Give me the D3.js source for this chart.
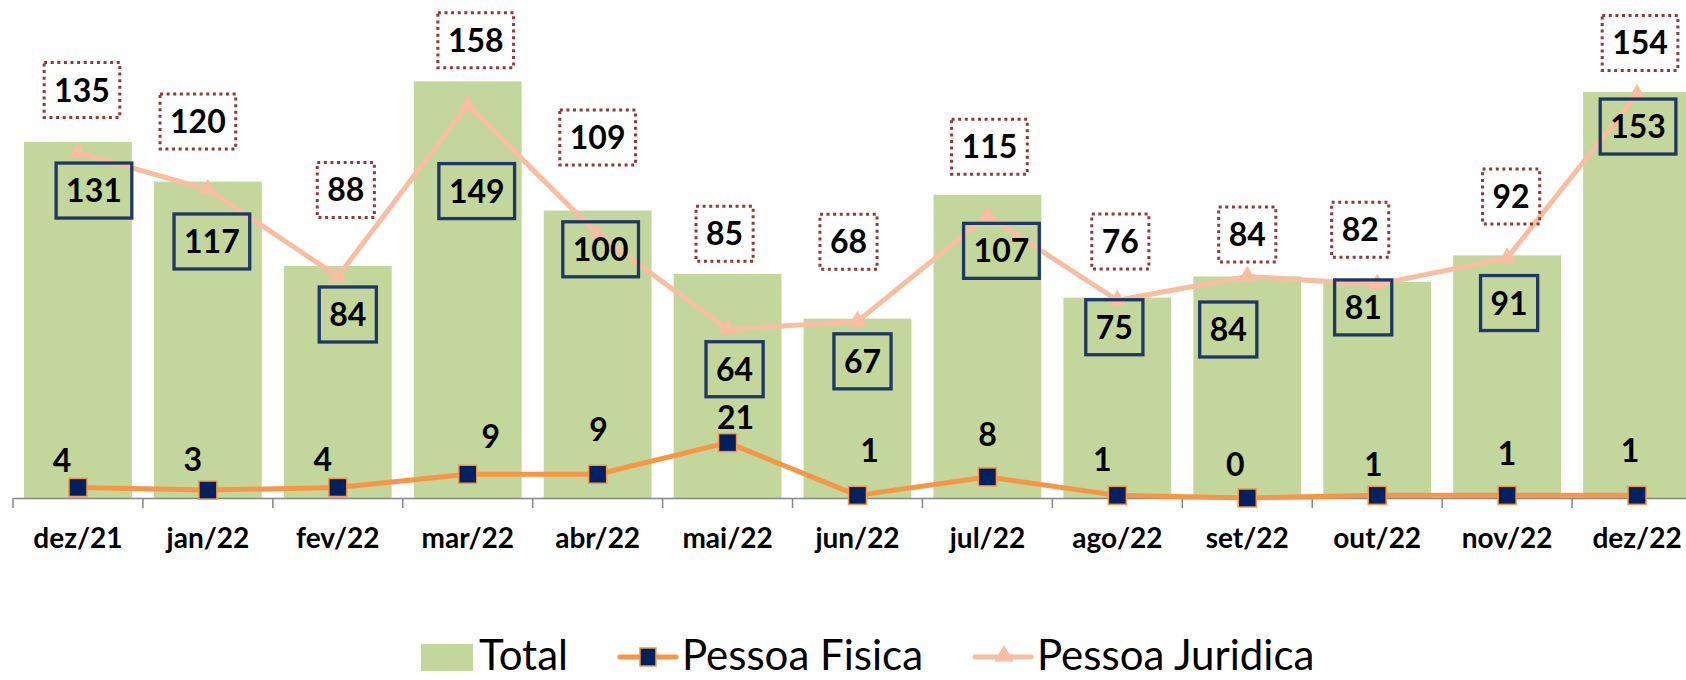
<!DOCTYPE html>
<html>
<head>
<meta charset="utf-8">
<script src="https://cdn.jsdelivr.net/npm/d3@7"></script>
<style>
  body { margin: 0; background: #fff; }
  svg { display: block; font-family: Lato, "Open Sans", sans-serif; }
  .tick text { font-family: Lato, sans-serif; font-weight: 700; font-size: 28px; fill: #000; }
  .lbl { font-weight: 700; font-size: 32px; fill: #000; }
  .legend text { font-size: 42px; fill: #000; }
</style>
</head>
<body>
<svg id="chart" width="1686" height="680"></svg>
<script>
const months = ["dez/21", "jan/22", "fev/22", "mar/22", "abr/22", "mai/22", "jun/22",
                "jul/22", "ago/22", "set/22", "out/22", "nov/22", "dez/22"];
const total = [135, 120, 88, 158, 109, 85, 68, 115, 76, 84, 82, 92, 154];
const pessoaFisica = [4, 3, 4, 9, 9, 21, 1, 8, 1, 0, 1, 1, 1];
const pessoaJuridica = [131, 117, 84, 149, 100, 64, 67, 107, 75, 84, 81, 91, 153];
const seriesNames = ["Total", "Pessoa Fisica", "Pessoa Juridica"];

// labels were dragged by hand in the sheet, so keep the pixel nudges here
const totalNudge = [[4,-52],[-10,-60],[8,-76],[8,-41],[0,-73],[-3,-40],[-9,-77],[2,-48],[3,-56],[0,-42],[-17,-52],[4,-59],[3,-49]];
const pjNudge = [[16,38],[4,52],[10,38],[9,86],[3,15],[7,40],[5,40],[14,35],[-3,27],[-19,53],[-14,23],[2,45],[1,32]];
const pfNudge = [[-16,-27],[-15,-31],[-15,-28],[23,-38],[1,-45],[8,-25],[12,-45],[0,-42],[-15,-36],[-12,-34],[-4,-31],[0,-42],[-7,-45]];

const BASE = 498;
const GREEN = "#c3d69b", ORANGE = "#f79646", NAVY = "#002060", SALMON = "#f7bea2";

var svg = d3.select("#chart");

var x = d3.scaleBand().domain(months).range([13, 1702]).paddingInner(0.17).paddingOuter(0.085);
var y = d3.scaleLinear().domain([0, 180]).range([BASE, BASE - 180 * 2.637]);
var cx = m => x(m) + x.bandwidth() / 2;

// bars
svg.append("g").selectAll("rect")
  .data(months)
  .join("rect")
  .attr("x", d => x(d))
  .attr("width", x.bandwidth())
  .attr("y", (d, i) => y(total[i]))
  .attr("height", (d, i) => BASE - y(total[i]))
  .attr("fill", GREEN);

// category axis, ticks sit between the bands
var ax = svg.append("g")
  .attr("transform", `translate(0,${BASE})`)
  .call(d3.axisBottom(x).tickSize(0).tickPadding(30));
ax.select(".domain").attr("stroke", "#868686").attr("stroke-width", 1.5);
var half = (x.step() - x.bandwidth()) / 2;
var bounds = months.map(m => x(m) - half).concat([x(months[months.length - 1]) + x.bandwidth() + half]);
ax.selectAll("line.sep")
  .data(bounds)
  .join("line")
  .attr("class", "sep")
  .attr("x1", d => d).attr("x2", d => d)
  .attr("y1", 0).attr("y2", 10)
  .attr("stroke", "#868686").attr("stroke-width", 1.5);

// lines
var line = values => d3.line().x((d, i) => cx(months[i])).y(d => y(d))(values);

svg.append("path").attr("d", line(pessoaFisica))
  .attr("fill", "none").attr("stroke", ORANGE).attr("stroke-width", 5).attr("stroke-linejoin", "round");
svg.append("path").attr("d", line(pessoaJuridica))
  .attr("fill", "none").attr("stroke", SALMON).attr("stroke-width", 5).attr("stroke-linejoin", "round");

svg.append("g").selectAll("rect")
  .data(pessoaFisica)
  .join("rect")
  .attr("x", (d, i) => cx(months[i]) - 9)
  .attr("y", d => y(d) - 9)
  .attr("width", 18).attr("height", 18)
  .attr("fill", NAVY).attr("stroke", ORANGE).attr("stroke-width", 1.5);

var tri = d3.symbol(d3.symbolTriangle, 150);
svg.append("g").selectAll("path")
  .data(pessoaJuridica)
  .join("path")
  .attr("d", tri)
  .attr("transform", (d, i) => `translate(${cx(months[i])},${y(d)})`)
  .attr("fill", SALMON);

// data labels
var addLabels = (values, nudge, boxStroke, dash) => {
  var g = svg.append("g").selectAll("g")
    .data(values)
    .join("g")
    .attr("transform", (d, i) => `translate(${cx(months[i]) + nudge[i][0]},${y(d) + nudge[i][1]})`);
  g.append("text")
    .attr("class", "lbl")
    .attr("text-anchor", "middle")
    .attr("dy", "0.36em")
    .text(d => d);
  if (boxStroke) {
    g.insert("rect", "text")
      .each(function () {
        var w = this.parentNode.querySelector("text").getComputedTextLength() + 20;
        d3.select(this).attr("x", -w / 2).attr("width", w);
      })
      .attr("y", -27.5).attr("height", 55)
      .attr("fill", "none")
      .attr("stroke", boxStroke)
      .attr("stroke-width", dash ? 3 : 3.3)
      .attr("stroke-dasharray", dash || null);
  }
};

addLabels(total, totalNudge, "#953735", "3,3.6");
addLabels(pessoaJuridica, pjNudge, "#1f3864", null);
addLabels(pessoaFisica, pfNudge, null, null);

// legend
var leg = svg.append("g").attr("class", "legend");
var lx = 421, ly = 657;
seriesNames.forEach((name, i) => {
  if (i == 0) {
    leg.append("rect").attr("x", lx).attr("y", ly - 13).attr("width", 52).attr("height", 27).attr("fill", GREEN);
    lx += 58;
  } else {
    var col = i == 1 ? ORANGE : SALMON;
    leg.append("line").attr("x1", lx).attr("x2", lx + 56).attr("y1", ly).attr("y2", ly)
      .attr("stroke", col).attr("stroke-width", 5).attr("stroke-linecap", "round");
    if (i == 1)
      leg.append("rect").attr("x", lx + 20).attr("y", ly - 9).attr("width", 16).attr("height", 18)
        .attr("fill", NAVY).attr("stroke", ORANGE).attr("stroke-width", 1.5);
    else
      leg.append("path").attr("d", d3.symbol(d3.symbolTriangle, 160)).attr("transform", `translate(${lx + 29},${ly - 1})`).attr("fill", SALMON);
    lx += 62;
  }
  var t = leg.append("text").attr("x", lx).attr("y", 670).text(name);
  lx += t.node().getComputedTextLength() + 52;
});
</script>
</body>
</html>
